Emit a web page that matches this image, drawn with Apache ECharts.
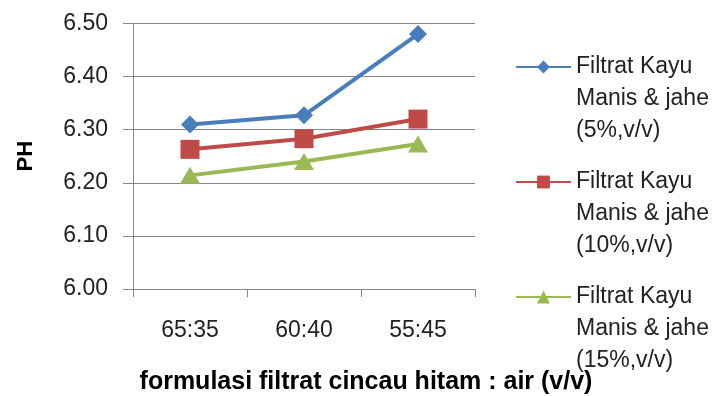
<!DOCTYPE html>
<html>
<head>
<meta charset="utf-8">
<script src="https://cdn.jsdelivr.net/npm/echarts@6/dist/echarts.min.js"></script>
<style>html,body{margin:0;padding:0;background:#fff}#c{width:718px;height:396px}</style>
</head>
<body>
<div id="c"></div>
<script>
const categories = ['65:35', '60:40', '55:45'];
const seriesNames = [
  'Filtrat Kayu Manis & jahe (5%,v/v)',
  'Filtrat Kayu Manis & jahe (10%,v/v)',
  'Filtrat Kayu Manis & jahe (15%,v/v)'
];
const ph5 = [6.31, 6.327, 6.48];
const ph10 = [6.263, 6.283, 6.32];
const ph15 = [6.214, 6.24, 6.273];
const yTicks = [6.0, 6.1, 6.2, 6.3, 6.4, 6.5];

const FONT = 'Liberation Sans';
const colors = ['#4A7EBB', '#BE4B48', '#98B954'];
const symbols = ['diamond', 'rect', 'triangle'];
const sizes = [[18, 18], [19, 19], [20, 17]];
const dataSets = [ph5, ph10, ph15];

const chart = echarts.init(document.getElementById('c'));
chart.setOption({
  animation: false,
  backgroundColor: '#fff',
  color: colors,
  grid: { left: 133, right: 243, top: 23.5, bottom: 107, containLabel: false, outerBoundsMode: 'none' },
  legend: {
    orient: 'vertical',
    left: 510,
    top: -18,
    itemGap: -45,
    itemWidth: 55,
    itemHeight: 16,
    formatter: function (n) {
      const m = n.match(/^(Filtrat Kayu) (Manis & jahe) (\(.*\))$/);
      return m ? '\n\n' + m[1] + '\n' + m[2] + '\n' + m[3] : n;
    },
    textStyle: {
      fontFamily: FONT, fontSize: 23, color: '#222', lineHeight: 32
    },
    data: seriesNames
  },
  xAxis: {
    type: 'category',
    data: categories,
    boundaryGap: true,
    axisLine: { lineStyle: { color: '#868686', width: 1 } },
    axisTick: { show: true, length: 8, lineStyle: { color: '#868686' } },
    axisLabel: { fontFamily: FONT, fontSize: 23, color: '#222', margin: 30 },
    name: 'formulasi filtrat cincau hitam : air (v/v)',
    nameLocation: 'middle',
    nameGap: 81,
    nameTextStyle: { fontFamily: FONT, fontSize: 25, fontWeight: 'bold', color: '#000', padding: [0, 0, 0, 124] }
  },
  yAxis: {
    type: 'value',
    min: yTicks[0],
    max: yTicks[yTicks.length - 1],
    interval: 0.1,
    axisLine: { show: true, lineStyle: { color: '#868686', width: 1 } },
    axisTick: { show: true, length: 10, lineStyle: { color: '#868686' } },
    axisLabel: { fontFamily: FONT, fontSize: 23, color: '#222', margin: 25, formatter: v => v.toFixed(2) },
    splitLine: { show: true, lineStyle: { color: '#868686', width: 1 } },
    name: 'PH',
    nameLocation: 'middle',
    nameGap: 96,
    nameTextStyle: { fontFamily: FONT, fontSize: 22, fontWeight: 'bold', color: '#000' }
  },
  series: seriesNames.map((n, i) => ({
    name: n,
    type: 'line',
    data: dataSets[i],
    symbol: symbols[i],
    symbolSize: sizes[i],
    lineStyle: { width: 4, color: colors[i] },
    itemStyle: { color: colors[i] }
  }))
});
</script>
</body>
</html>
